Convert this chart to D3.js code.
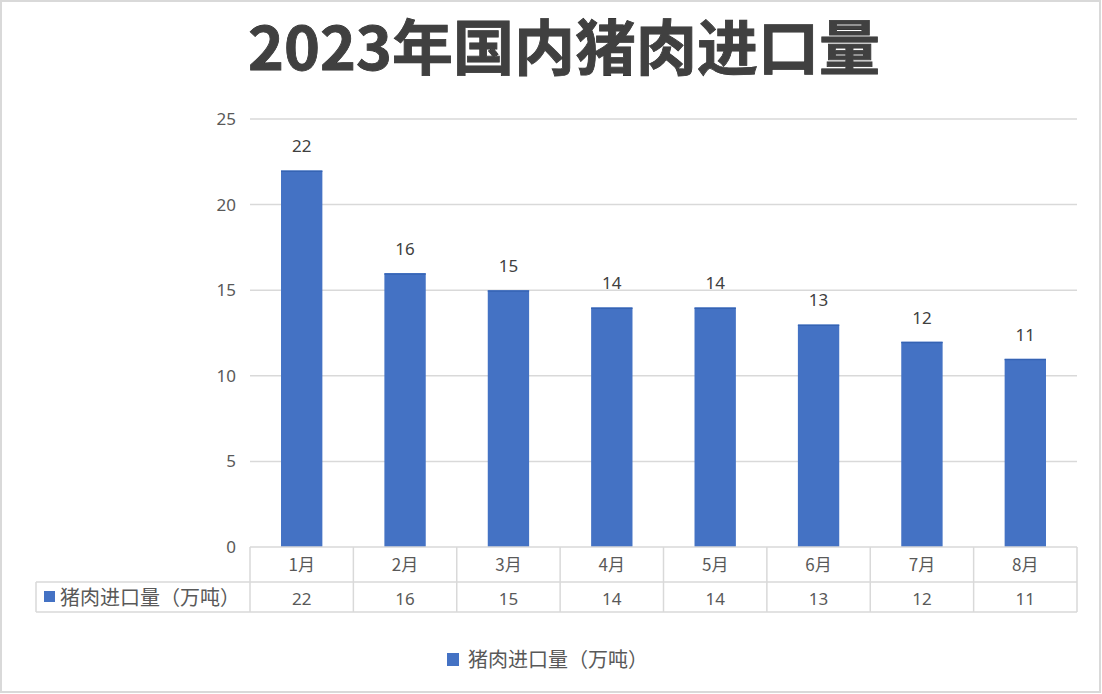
<!DOCTYPE html>
<html>
<head>
<meta charset="utf-8">
<script src="https://cdn.jsdelivr.net/npm/d3@7"></script>
<style>
  body { margin:0; background:#fff; }
  text { font-family: "Noto Sans CJK SC", "Noto Sans", sans-serif; }
</style>
</head>
<body>
<svg id="chart" width="1102" height="694"></svg>
<script>
// data
var months = ["1月", "2月", "3月", "4月", "5月", "6月", "7月", "8月"]
var imports = [22, 16, 15, 14, 14, 13, 12, 11]
var yTicks = [0, 5, 10, 15, 20, 25]
var seriesName = "猪肉进口量（万吨）"
var title = "2023年国内猪肉进口量"

var width = 1102, height = 694
var margin = {top:119, left:250, bottom:147, right:25}
var barColor = "#4472C4", grid = "#d9d9d9", txt = "#595959"

var svg = d3.select("#chart")

// outer frame
svg.append("rect")
  .attr("x", 1).attr("y", 1)
  .attr("width", width-3).attr("height", height-3)
  .attr("fill", "#fff")
  .attr("stroke", "#d9d9d9").attr("stroke-width", 2)

// title
svg.append("text")
  .attr("x", 564).attr("y", 70)
  .attr("text-anchor", "middle")
  .attr("fill", "#404040")
  .attr("font-size", 60)
  .attr("font-weight", "bold")
  .attr("textLength", 632)
  .attr("lengthAdjust", "spacingAndGlyphs")
  .style("paint-order", "stroke")
  .attr("stroke", "#2b2b2b").attr("stroke-width", 0.8)
  .text(title)

var plotW = width - margin.left - margin.right
var plotH = height - margin.top - margin.bottom   // 0 at y=547

var xScale = d3.scaleBand().domain(months).range([0, plotW]).paddingInner(0.6).paddingOuter(0.3)
var cell = d3.scaleBand().domain(months).range([0, plotW])
var yScale = d3.scaleLinear().domain([0, 25]).range([plotH, 0])

var g = svg.append("g")
  .attr("transform", "translate(" + margin.left + "," + margin.top + ")")

// gridlines
g.selectAll(".grid")
  .data(yTicks.slice(1))
  .enter().append("line")
    .attr("x1", 0).attr("x2", plotW)
    .attr("y1", function(d) { return yScale(d) })
    .attr("y2", function(d) { return yScale(d) })
    .attr("stroke", grid).attr("stroke-width", 1.5)

// y axis labels
var yAxisCall = d3.axisLeft(yScale).tickValues(yTicks).tickSize(0).tickPadding(14)
var ya = g.append("g").call(yAxisCall)
ya.select(".domain").remove()
ya.selectAll("text")
  .attr("fill", txt).attr("font-size", 17)
  .style("font-family", "'Noto Sans', sans-serif")

// bars
g.selectAll(".bar")
  .data(imports)
  .enter().append("rect")
    .attr("x", function(d, i) { return xScale(months[i]) })
    .attr("y", function(d) { return yScale(d) })
    .attr("width", xScale.bandwidth())
    .attr("height", function(d) { return plotH - yScale(d) })
    .attr("fill", barColor)
g.selectAll(".bartop")
  .data(imports)
  .enter().append("line")
    .attr("x1", function(d, i) { return xScale(months[i]) })
    .attr("x2", function(d, i) { return xScale(months[i]) + xScale.bandwidth() })
    .attr("y1", function(d) { return yScale(d) + 1 })
    .attr("y2", function(d) { return yScale(d) + 1 })
    .attr("stroke", "#3563b3").attr("stroke-width", 1.2)

// data labels
g.selectAll(".lbl")
  .data(imports)
  .enter().append("text")
    .attr("x", function(d, i) { return xScale(months[i]) + xScale.bandwidth()/2 })
    .attr("y", function(d) { return yScale(d) - 18 })
    .attr("text-anchor", "middle")
    .attr("fill", "#404040").attr("font-size", 17)
    .style("font-family", "'Noto Sans', sans-serif")
    .text(function(d) { return d })

// data table
var row1 = plotH, row2 = plotH + 35, row3 = plotH + 65
var tLeft = 36 - margin.left
var tb = g.append("g").attr("stroke", grid).attr("stroke-width", 1.5)
tb.append("line").attr("x1", 0).attr("x2", plotW).attr("y1", row1).attr("y2", row1)
tb.append("line").attr("x1", tLeft).attr("x2", plotW).attr("y1", row2).attr("y2", row2)
tb.append("line").attr("x1", tLeft).attr("x2", plotW).attr("y1", row3).attr("y2", row3)
tb.append("line").attr("x1", tLeft).attr("x2", tLeft).attr("y1", row2).attr("y2", row3)
tb.selectAll(".vl")
  .data(months.concat(["end"]))
  .enter().append("line")
    .attr("x1", function(d) { return d == "end" ? plotW : cell(d) })
    .attr("x2", function(d) { return d == "end" ? plotW : cell(d) })
    .attr("y1", row1).attr("y2", row3)

g.selectAll(".cat")
  .data(months)
  .enter().append("text")
    .attr("x", function(d) { return cell(d) + cell.bandwidth()/2 })
    .attr("y", row1 + 24)
    .attr("text-anchor", "middle")
    .attr("fill", txt).attr("font-size", 17)
    .text(function(d) { return d })

g.selectAll(".val")
  .data(imports)
  .enter().append("text")
    .attr("x", function(d, i) { return cell(months[i]) + cell.bandwidth()/2 })
    .attr("y", row2 + 23)
    .attr("text-anchor", "middle")
    .attr("fill", txt).attr("font-size", 17)
    .style("font-family", "'Noto Sans', sans-serif")
    .text(function(d) { return d })

g.append("rect")
  .attr("x", tLeft + 8).attr("y", row2 + 9)
  .attr("width", 11).attr("height", 11)
  .attr("fill", barColor)
g.append("text")
  .attr("x", tLeft + 24).attr("y", row2 + 23)
  .attr("fill", txt).attr("font-size", 20)
  .text(seriesName)

// legend
var lg = svg.append("g").attr("transform", "translate(447,653)")
lg.append("rect").attr("width", 12).attr("height", 13).attr("fill", barColor)
lg.append("text")
  .attr("x", 21).attr("y", 14)
  .attr("fill", txt).attr("font-size", 20)
  .text(seriesName)
</script>
</body>
</html>
